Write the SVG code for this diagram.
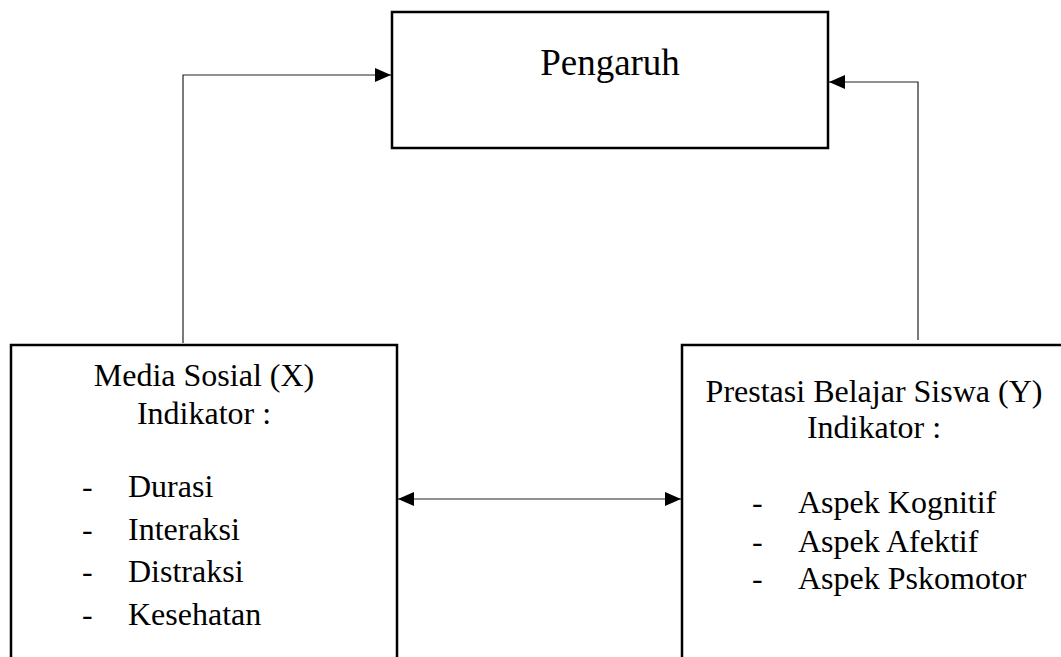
<svg xmlns="http://www.w3.org/2000/svg" width="1061" height="657" viewBox="0 0 1061 657">
  <style>
    .box { fill: #ffffff; stroke: #000000; stroke-width: 2.5; }
    .conn { fill: none; stroke: #222222; stroke-width: 1.2; }
    .t { font-family: "Liberation Serif", "Times New Roman", serif; fill: #000000; font-size: 32px; }
    .c { text-anchor: middle; }
    .big { font-size: 37px; }
  </style>
  <defs>
    <marker id="ah" viewBox="0 0 16 14" refX="16" refY="7" markerWidth="16" markerHeight="14" markerUnits="userSpaceOnUse" orient="auto-start-reverse">
      <path d="M0,0 L16,7 L0,14 Z" fill="#000000"/>
    </marker>
  </defs>
  <rect width="1061" height="657" fill="#ffffff"/>

  <g id="pengaruh">
    <rect class="box" x="392" y="12" width="436" height="136"/>
    <text class="t c big" x="610" y="75">Pengaruh</text>
  </g>

  <g id="media-sosial">
    <rect class="box" x="11" y="345" width="386" height="330"/>
    <text class="t c" x="204" y="386">Media Sosial (X)</text>
    <text class="t c" x="204" y="424">Indikator :</text>
    <text class="t" x="82" y="497">-</text>
    <text class="t" x="128" y="497">Durasi</text>
    <text class="t" x="82" y="540">-</text>
    <text class="t" x="128" y="540">Interaksi</text>
    <text class="t" x="82" y="582">-</text>
    <text class="t" x="128" y="582">Distraksi</text>
    <text class="t" x="82" y="625">-</text>
    <text class="t" x="128" y="625">Kesehatan</text>
  </g>

  <g id="prestasi">
    <rect class="box" x="682" y="345" width="420" height="330"/>
    <text class="t c" x="874" y="402">Prestasi Belajar Siswa (Y)</text>
    <text class="t c" x="874" y="438">Indikator :</text>
    <text class="t" x="752" y="513">-</text>
    <text class="t" x="798" y="513">Aspek Kognitif</text>
    <text class="t" x="752" y="552">-</text>
    <text class="t" x="798" y="552">Aspek Afektif</text>
    <text class="t" x="752" y="589">-</text>
    <text class="t" x="798" y="589">Aspek Pskomotor</text>
  </g>

  <g id="connectors">
    <path class="conn" d="M183,343 L183,75 L391,75" marker-end="url(#ah)"/>
    <path class="conn" d="M918,340 L918,82 L829,82" marker-end="url(#ah)"/>
    <path class="conn" d="M398,499 L681,499" marker-start="url(#ah)" marker-end="url(#ah)"/>
  </g>
</svg>
